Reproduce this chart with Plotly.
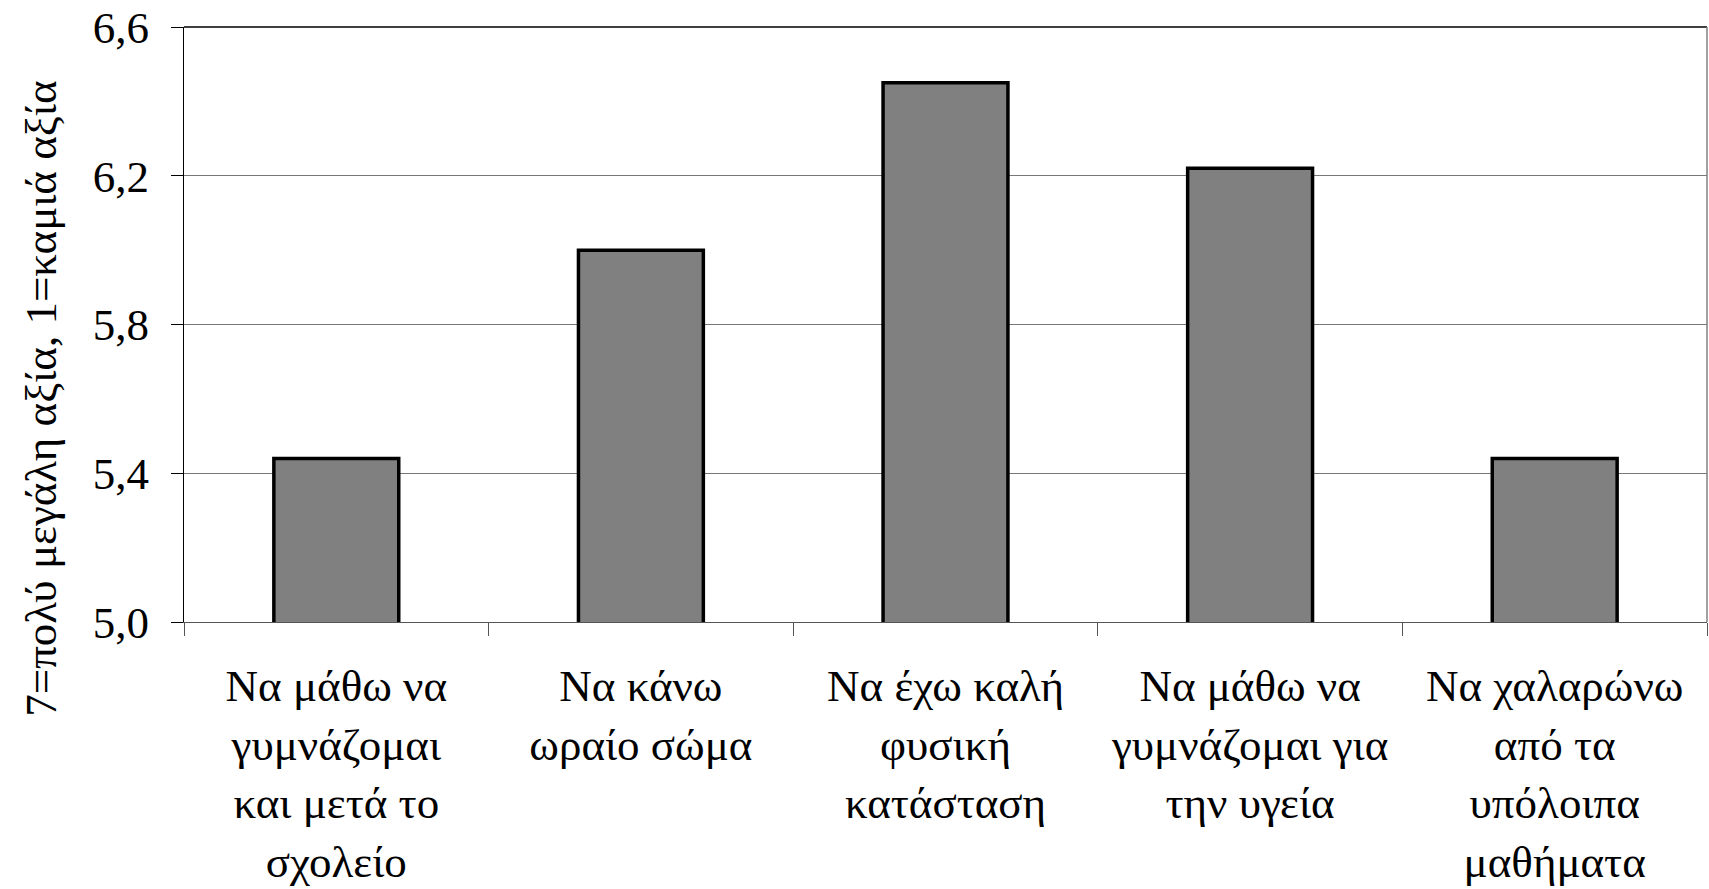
import plotly.graph_objects as go

categories = [
    "Να μάθω να<br>γυμνάζομαι<br>και μετά το<br>σχολείο",
    "Να κάνω<br>ωραίο σώμα",
    "Να έχω καλή<br>φυσική<br>κατάσταση",
    "Να μάθω να<br>γυμνάζομαι για<br>την υγεία",
    "Να χαλαρώνω<br>από τα<br>υπόλοιπα<br>μαθήματα",
]
values = [5.44, 6.00, 6.45, 6.22, 5.44]
y_ticks = [5.0, 5.4, 5.8, 6.2, 6.6]
y_title = "7=πολύ μεγάλη αξία, 1=καμιά αξία"

FONT = "Liberation Serif, Times New Roman, serif"
W, H = 1709, 889
L, R, T, B = 184, 2, 27, 265

fig = go.Figure(
    go.Bar(
        x=categories,
        y=values,
        width=0.41,
        marker=dict(color="#808080", line=dict(color="#000000", width=3.5)),
        hoverinfo="x+y",
    )
)

fig.update_layout(
    width=W,
    height=H,
    margin=dict(l=L, r=R, t=T, b=B, pad=0),
    paper_bgcolor="white",
    plot_bgcolor="white",
    separators=",.",
    showlegend=False,
    font=dict(family=FONT, size=45, color="black"),
    bargap=0.59,
)

fig.update_xaxes(
    type="category",
    tickson="boundaries",
    ticks="outside",
    ticklen=13,
    tickwidth=1,
    tickcolor="#555555",
    showline=True,
    linecolor="#555555",
    linewidth=1,
    showgrid=False,
    tickfont=dict(family=FONT, size=45, color="black"),
    ticklabelstandoff=24,
    tickangle=0,
)

fig.update_yaxes(
    range=[5.0, 6.6],
    tickvals=y_ticks,
    tickformat=".1f",
    ticks="outside",
    ticklen=12,
    tickwidth=1,
    tickcolor="black",
    showline=True,
    linecolor="black",
    linewidth=1,
    showgrid=True,
    gridcolor="#777777",
    gridwidth=1,
    zeroline=False,
    tickfont=dict(family=FONT, size=45, color="black"),
    ticklabelstandoff=13,
)

# top and right frame of the plot area
fig.add_shape(type="line", xref="paper", yref="paper", x0=0, x1=1, y0=1, y1=1,
              line=dict(color="black", width=1.5))
fig.add_shape(type="line", xref="paper", yref="paper", x0=1, x1=1, y0=0, y1=1,
              line=dict(color="#808080", width=1.5))

# rotated axis title
fig.add_annotation(
    text=y_title,
    xref="paper", yref="paper",
    x=(41 - L) / (W - L - R), y=(624 - 400) / (624 - 27),
    xanchor="center", yanchor="middle",
    textangle=-90,
    showarrow=False,
    font=dict(family=FONT, size=45, color="black"),
)

fig.write_html("out.html")
